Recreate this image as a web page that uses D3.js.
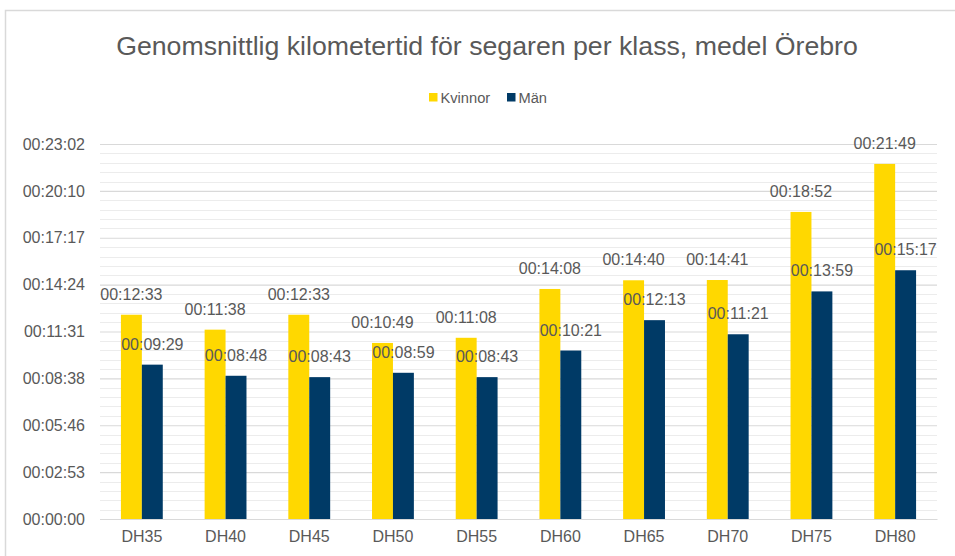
<!DOCTYPE html>
<html><head><meta charset="utf-8">
<script src="https://cdn.jsdelivr.net/npm/d3@7/dist/d3.min.js"></script>
<style>body{margin:0;background:#fff;}svg{display:block;font-family:"Liberation Sans",Arial,sans-serif;}</style>
</head><body>
<svg id="c" width="955" height="556"></svg>
<script>
const title = "Genomsnittlig kilometertid för segaren per klass, medel Örebro";
const categories = ["DH35","DH40","DH45","DH50","DH55","DH60","DH65","DH70","DH75","DH80"];
const seriesNames = ["Kvinnor","Män"];
const seriesColors = ["#FFD800","#003A66"];
// seconds
const kvinnor = [753,698,753,649,668,848,880,881,1132,1309];
const man = [569,528,523,539,523,621,733,681,839,917];
const tickValues = [0,172.8,345.6,518.4,691.2,864,1036.8,1209.6,1382.4];
const tickLabels = ["00:00:00","00:02:53","00:05:46","00:08:38","00:11:31","00:14:24","00:17:17","00:20:10","00:23:02"];
const yMax = 1382.4, minorStep = 34.56;

const fmt = s => { const h=Math.floor(s/3600), m=Math.floor(s%3600/60), ss=Math.round(s%60);
  return [h,m,ss].map(v=>String(v).padStart(2,"0")).join(":"); };

const svg = d3.select("#c");
const txt = "#595959";
svg.append("rect").attr("x",5.5).attr("y",10.5).attr("width",1000).attr("height",600)
  .attr("fill","#fff").attr("stroke","#d9d9d9").attr("stroke-width",1.5);

const L=100, R=937, T=144, B=519;
const x = d3.scaleBand().domain(categories).range([L,R]).paddingInner(0.5).paddingOuter(0.25);
const xs = d3.scaleBand().domain(seriesNames).range([0,x.bandwidth()]);
const y = d3.scaleLinear().domain([0,yMax]).range([B,T]);

// minor grid
const minor = d3.range(0, yMax+0.01, minorStep).filter((v,i)=>i%5!==0);
svg.append("g").selectAll("line").data(minor).join("line")
  .attr("x1",L).attr("x2",R).attr("y1",d=>Math.round(y(d))+0.5).attr("y2",d=>Math.round(y(d))+0.5)
  .attr("stroke","#ececec").attr("stroke-width",1);
// major grid + labels
const yAxis = d3.axisLeft(y).tickValues(tickValues).tickFormat((d,i)=>tickLabels[i]).tickSize(-(R-L)).tickPadding(15);
const gy = svg.append("g").attr("transform",`translate(${L},0)`).call(yAxis);
gy.select(".domain").remove();
gy.selectAll(".tick line").attr("stroke","#d9d9d9").attr("stroke-width",1.2);
gy.selectAll(".tick text").attr("fill",txt).attr("font-size",16).attr("font-family","Liberation Sans, Arial, sans-serif");

// bars
const data = [kvinnor, man];
seriesNames.forEach((s,si)=>{
  const g = svg.append("g");
  g.selectAll("rect").data(categories).join("rect")
    .attr("x",c=>x(c)+xs(s)).attr("width",xs.bandwidth())
    .attr("y",(c,i)=>y(data[si][i])).attr("height",(c,i)=>B-y(data[si][i]))
    .attr("fill",seriesColors[si]);
});
seriesNames.forEach((s,si)=>{
  svg.append("g").selectAll("text").data(categories).join("text")
    .attr("x",c=>x(c)+xs(s)+xs.bandwidth()/2).attr("y",(c,i)=>y(data[si][i])-15)
    .attr("text-anchor","middle").attr("font-size",16).attr("fill",txt)
    .text((c,i)=>fmt(data[si][i]));
});

// x axis
const gx = svg.append("g").attr("transform",`translate(0,${B})`).call(d3.axisBottom(x).tickSize(0).tickPadding(12));
gx.select(".domain").attr("stroke","#d9d9d9").attr("stroke-width",1.2);
gx.selectAll(".tick text").attr("fill",txt).attr("font-size",16).attr("font-family","Liberation Sans, Arial, sans-serif");

// title
svg.append("text").attr("x",487).attr("y",55).attr("text-anchor","middle")
  .attr("font-size",26.7).attr("fill",txt).text(title);

// legend
const legX = [429, 507];
seriesNames.forEach((s,i)=>{
  svg.append("rect").attr("x",legX[i]).attr("y",93).attr("width",8.5).attr("height",8.5).attr("fill",seriesColors[i]);
  svg.append("text").attr("x",legX[i]+11.5).attr("y",102.5).attr("font-size",14.67).attr("fill",txt).text(s);
});
</script>
</body></html>
